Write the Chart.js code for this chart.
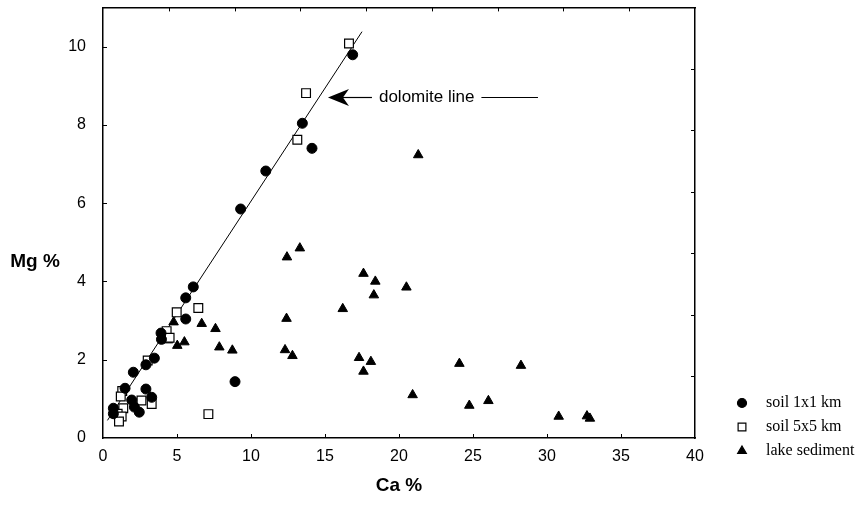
<!DOCTYPE html>
<html>
<head>
<meta charset="utf-8">
<script src="https://cdn.jsdelivr.net/npm/chart.js@4.4.1/dist/chart.umd.min.js"></script>
<style>
    html, body { margin: 0; padding: 0; background: #fff; }
</style>
</head>
<body>
<canvas id="scatterChart" width="862" height="505"></canvas>
<script>
// series names (legend order)
var seriesNames = ['soil 1x1 km', 'soil 5x5 km', 'lake sediment'];

// soil 1x1 km (circles)
var soil1Ca = [16.87, 13.47, 14.12, 11.0, 9.3, 6.1, 5.59, 5.59, 3.92, 3.95, 3.47, 2.9, 2.05, 8.92, 1.49, 2.9, 1.94, 3.29, 2.12, 2.45, 0.7, 0.7];
var soil1Mg = [9.79, 8.04, 7.4, 6.82, 5.85, 3.86, 3.58, 3.04, 2.68, 2.52, 2.04, 1.87, 1.68, 1.44, 1.27, 1.25, 0.97, 1.04, 0.79, 0.66, 0.76, 0.62];

// soil 5x5 km (open squares)
var soil5Ca = [16.62, 13.72, 13.13, 6.44, 4.98, 4.3, 4.5, 3.02, 1.3, 1.2, 2.6, 3.29, 1.37, 0.99, 1.26, 1.08, 7.12];
var soil5Mg = [10.08, 8.81, 7.62, 3.32, 3.21, 2.73, 2.56, 1.98, 1.2, 1.06, 0.96, 0.87, 0.76, 0.62, 0.55, 0.42, 0.61];

// lake sediment (triangles)
var lakeCa = [21.3, 13.3, 12.43, 17.6, 18.4, 20.5, 18.3, 16.2, 12.4, 4.77, 6.67, 7.6, 4.4, 5.5, 5.02, 7.86, 8.74, 12.3, 12.8, 17.3, 18.1, 24.08, 28.24, 17.6, 20.92, 26.04, 24.75, 30.79, 32.7, 32.9];
var lakeMg = [7.23, 4.85, 4.62, 4.2, 4.0, 3.85, 3.65, 3.3, 3.05, 2.96, 2.92, 2.79, 2.5, 2.45, 2.36, 2.32, 2.24, 2.25, 2.1, 2.05, 1.95, 1.9, 1.85, 1.7, 1.1, 0.95, 0.83, 0.55, 0.56, 0.5];

// dolomite line end points
var dolomiteCa = [0.3, 17.5];
var dolomiteMg = [0.45, 10.38];

// axis ticks
var xTicks = [0, 5, 10, 15, 20, 25, 30, 35, 40];
var yTicks = [0, 2, 4, 6, 8, 10];

function toPoints(xs, ys) {
    return xs.map(function (x, i) { return { x: x, y: ys[i] }; });
}

function tickList(values) {
    return values.map(function (v) { return { value: v }; });
}

// inward tick marks on all four sides
var innerTicks = {
    id: 'innerTicks',
    afterDraw: function (chart) {
        var ctx = chart.ctx, a = chart.chartArea, len = 4;
        ctx.save();
        ctx.strokeStyle = '#000';
        ctx.lineWidth = 1;
        ctx.beginPath();
        ['x', 'x2', 'y', 'y2'].forEach(function (id) {
            var s = chart.scales[id];
            s.ticks.forEach(function (t) {
                if (t.value === s.min || t.value === s.max) return;
                var p = Math.round(s.getPixelForValue(t.value)) + 0.5;
                if (id === 'x') { ctx.moveTo(p, a.bottom); ctx.lineTo(p, a.bottom - len); }
                if (id === 'x2') { ctx.moveTo(p, a.top); ctx.lineTo(p, a.top + len); }
                if (id === 'y') { ctx.moveTo(a.left, p); ctx.lineTo(a.left + len, p); }
                if (id === 'y2') { ctx.moveTo(a.right, p); ctx.lineTo(a.right - len, p); }
            });
        });
        ctx.stroke();
        ctx.restore();
    }
};

// dolomite label, y title and legend
var extras = {
    id: 'extras',
    afterDraw: function (chart) {
        var ctx = chart.ctx;
        var xs = chart.scales.x, ys = chart.scales.y;
        ctx.save();
        ctx.fillStyle = '#000';
        ctx.strokeStyle = '#000';

        // arrow pointing at the line
        var tx = xs.getPixelForValue(15.2), ty = Math.round(ys.getPixelForValue(8.7)) + 0.5;
        ctx.beginPath();
        ctx.moveTo(tx, ty);
        ctx.lineTo(tx + 21, ty - 8.5);
        ctx.lineTo(tx + 15, ty);
        ctx.lineTo(tx + 21, ty + 8.5);
        ctx.closePath();
        ctx.fill();
        ctx.lineWidth = 1.2;
        ctx.beginPath();
        ctx.moveTo(tx + 14, ty);
        ctx.lineTo(tx + 44, ty);
        ctx.stroke();
        ctx.font = '17px "Liberation Sans", Arial, sans-serif';
        ctx.textBaseline = 'middle';
        ctx.textAlign = 'left';
        var label = 'dolomite line';
        ctx.fillText(label, tx + 51, ty);
        var w = ctx.measureText(label).width;
        ctx.beginPath();
        ctx.moveTo(tx + 51 + w + 7, ty);
        ctx.lineTo(tx + 210, ty);
        ctx.stroke();

        // horizontal y axis title
        ctx.font = 'bold 19px "Liberation Sans", Arial, sans-serif';
        ctx.textAlign = 'center';
        ctx.fillText('Mg %', 35, 262);

        // legend
        ctx.font = '16px "Liberation Serif", "Times New Roman", serif';
        ctx.textAlign = 'left';
        var styles = ['circle', 'rect', 'triangle'];
        var fills = ['#000', '#fff', '#000'];
        var sizes = [4.5, 5.5, 5];
        for (var i = 0; i < seriesNames.length; i++) {
            var ly = 403 + i * 24;
            ctx.fillStyle = fills[i];
            ctx.strokeStyle = '#000';
            Chart.helpers.drawPoint(ctx, {
                pointStyle: styles[i], radius: sizes[i], borderWidth: 1.2, rotation: 0
            }, 742, ly);
            ctx.fillStyle = '#000';
            ctx.fillText(seriesNames[i], 766, ly);
        }
        ctx.restore();
    }
};

var ctx = document.getElementById('scatterChart').getContext('2d');

var myChart = new Chart(ctx, {
    type: 'scatter',
    data: {
        datasets: [{
            label: seriesNames[0],
            data: toPoints(soil1Ca, soil1Mg),
            pointStyle: 'circle',
            pointRadius: 5,
            backgroundColor: '#000',
            borderColor: '#000',
            borderWidth: 1
        }, {
            label: seriesNames[1],
            data: toPoints(soil5Ca, soil5Mg),
            pointStyle: 'rect',
            pointRadius: 6.2,
            backgroundColor: '#fff',
            borderColor: '#000',
            borderWidth: 1.2
        }, {
            label: seriesNames[2],
            data: toPoints(lakeCa, lakeMg),
            pointStyle: 'triangle',
            pointRadius: 5.5,
            backgroundColor: '#000',
            borderColor: '#000',
            borderWidth: 1
        }, {
            label: 'dolomite line',
            data: toPoints(dolomiteCa, dolomiteMg),
            showLine: true,
            pointRadius: 0,
            borderColor: '#000',
            borderWidth: 1,
            order: 5
        }]
    },
    options: {
        responsive: false,
        animation: false,
        devicePixelRatio: 1,
        layout: { padding: { top: 7, right: 167, left: 0, bottom: 0 } },
        plugins: {
            legend: { display: false },
            tooltip: { enabled: false }
        },
        scales: {
            x: {
                type: 'linear',
                position: 'bottom',
                min: 0,
                max: 40,
                afterBuildTicks: function (s) { s.ticks = tickList(xTicks); },
                afterFit: function (s) { s.height = 67; s.paddingLeft = 0; s.paddingRight = 0; },
                grid: { display: false },
                border: { display: true, color: '#000', width: 1.5 },
                ticks: {
                    color: '#000',
                    padding: 1,
                    maxRotation: 0,
                    font: { family: '"Liberation Sans", Arial, sans-serif', size: 16 }
                },
                title: {
                    display: true,
                    text: 'Ca %',
                    color: '#000',
                    font: { family: '"Liberation Sans", Arial, sans-serif', size: 19, weight: 'bold' },
                    padding: { top: 0, bottom: 8 }
                }
            },
            y: {
                type: 'linear',
                position: 'left',
                min: 0,
                max: 11,
                afterBuildTicks: function (s) { s.ticks = tickList(yTicks); },
                afterFit: function (s) { s.width = 103; s.paddingTop = 0; s.paddingBottom = 0; },
                grid: { display: false },
                border: { display: true, color: '#000', width: 1.5 },
                ticks: {
                    color: '#000',
                    padding: 9,
                    font: { family: '"Liberation Sans", Arial, sans-serif', size: 16 }
                }
            },
            x2: {
                type: 'linear',
                position: 'top',
                min: 0,
                max: 9,
                afterFit: function (s) { s.height = 0; },
                ticks: { display: false, stepSize: 1 },
                grid: { display: false },
                border: { display: true, color: '#000', width: 1.5 }
            },
            y2: {
                type: 'linear',
                position: 'right',
                min: 0,
                max: 7,
                afterFit: function (s) { s.width = 0; },
                ticks: { display: false, stepSize: 1 },
                grid: { display: false },
                border: { display: true, color: '#000', width: 1.5 }
            }
        }
    },
    plugins: [innerTicks, extras]
});
</script>
</body>
</html>
